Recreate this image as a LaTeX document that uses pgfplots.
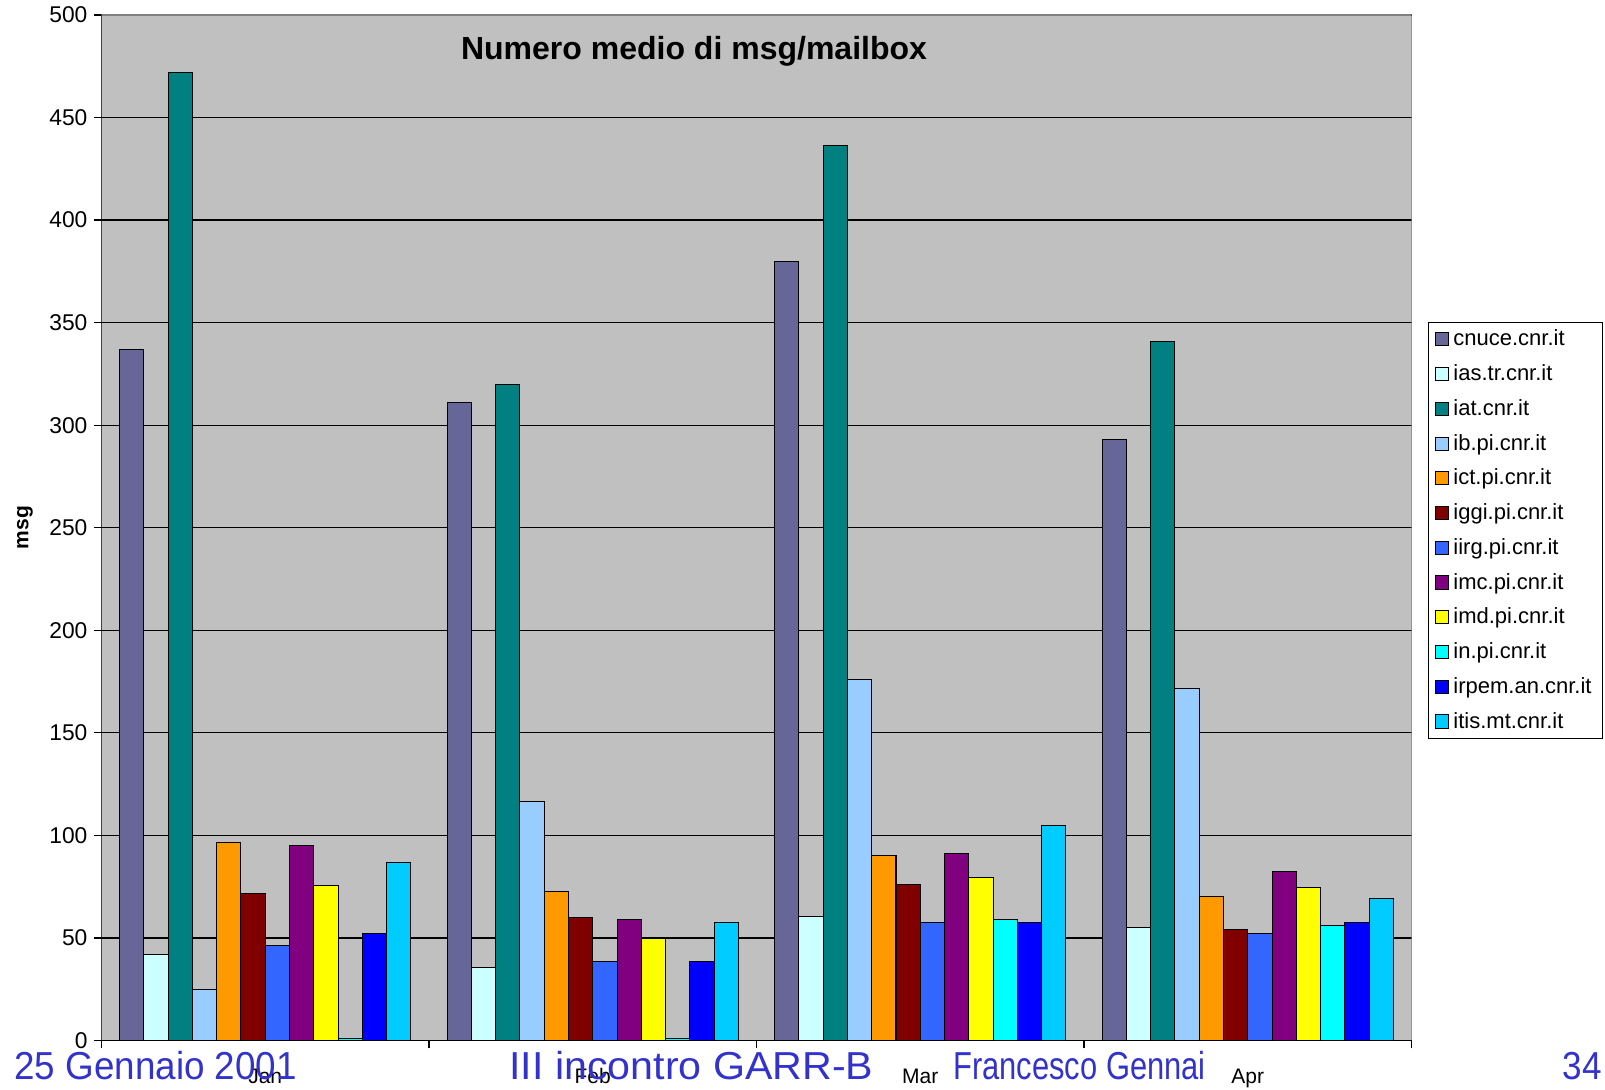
\documentclass[border=0pt]{standalone}
\usepackage{pgfplots}
\pgfplotsset{compat=1.18}
\usepackage{fontspec}
\setmainfont{Liberation Sans}
\definecolor{cA}{HTML}{666699}
\definecolor{cB}{HTML}{CCFFFF}
\definecolor{cC}{HTML}{008080}
\definecolor{cD}{HTML}{99CCFF}
\definecolor{cE}{HTML}{FF9900}
\definecolor{cF}{HTML}{800000}
\definecolor{cG}{HTML}{3366FF}
\definecolor{cH}{HTML}{800080}
\definecolor{cI}{HTML}{FFFF00}
\definecolor{cJ}{HTML}{00FFFF}
\definecolor{cK}{HTML}{0000FF}
\definecolor{cL}{HTML}{00CCFF}
\definecolor{bg}{HTML}{C0C0C0}
\definecolor{frame}{HTML}{808080}
\definecolor{foot}{HTML}{3333CC}
\begin{document}
\begin{tikzpicture}
\begin{axis}[
  at={(0,0)}, anchor=south west,
  scale only axis, width=655pt, height=512.75pt,
  ybar=0pt, bar width=12.13pt,
  xmin=-0.5, xmax=3.5, ymin=0, ymax=500,
  enlarge x limits=false,
  xtick={0,1,2,3}, xticklabels={Jan,Feb,Mar,Apr},
  major x tick style={draw=none},
  minor xtick={-0.5,0.5,1.5,2.5,3.5},
  minor tick length=4pt,
  ytick={0,50,...,500},
  major tick length=3.5pt,
  tick align=outside, tick pos=left,
  tick style={black, line width=0.6pt},
  ymajorgrids, grid style={black, line width=0.6pt},
  axis line style={draw=none},
  axis background/.style={fill=bg},
  /pgf/number format/assume math mode=true,
  yticklabel style={font=\fontsize{11.4}{13}\selectfont},
  xticklabel style={font=\fontsize{10.5}{12}\selectfont, anchor=base, yshift=-18pt},
  ylabel={\bfseries msg},
  ylabel style={font=\fontsize{10.5}{12}\selectfont, at={(axis description cs:-0.0584,0.5)}, anchor=center, rotate=0},
  legend style={at={(axis description cs:1.0126,0.7005)}, anchor=north west,
    draw=black, fill=white, line width=0.6pt,
    font=\fontsize{11}{13}\selectfont,
    row sep=3.9pt, inner xsep=3.3pt, inner ysep=1.6pt,
    /tikz/every even column/.append style={column sep=0pt}},
  legend cell align=left,
  legend image code/.code={\draw[#1,draw=black,line width=0.5pt] (0pt,-3.3pt) rectangle (6.6pt,3.3pt);},
  every axis plot/.append style={draw=black, line width=0.5pt},
]
\addplot[fill=cA] coordinates {(0,337) (1,311) (2,380) (3,293)};
\addplot[fill=cB] coordinates {(0,42) (1,35.5) (2,60.5) (3,55)};
\addplot[fill=cC] coordinates {(0,472) (1,320) (2,436.5) (3,341)};
\addplot[fill=cD] coordinates {(0,25) (1,116.5) (2,176) (3,171.5)};
\addplot[fill=cE] coordinates {(0,96.5) (1,72.5) (2,90) (3,70)};
\addplot[fill=cF] coordinates {(0,71.5) (1,60) (2,76) (3,54)};
\addplot[fill=cG] coordinates {(0,46.5) (1,38.5) (2,57.5) (3,52)};
\addplot[fill=cH] coordinates {(0,95) (1,59) (2,91) (3,82.5)};
\addplot[fill=cI] coordinates {(0,75.5) (1,49.5) (2,79.5) (3,74.5)};
\addplot[fill=cJ] coordinates {(0,1) (1,1) (2,59) (3,56)};
\addplot[fill=cK] coordinates {(0,52) (1,38.5) (2,57.5) (3,57.5)};
\addplot[fill=cL] coordinates {(0,87) (1,57.5) (2,105) (3,69)};
\legend{cnuce.cnr.it,ias.tr.cnr.it,iat.cnr.it,ib.pi.cnr.it,ict.pi.cnr.it,iggi.pi.cnr.it,iirg.pi.cnr.it,imc.pi.cnr.it,imd.pi.cnr.it,in.pi.cnr.it,irpem.an.cnr.it,itis.mt.cnr.it}
\draw[frame, line width=1pt] (rel axis cs:0,1) -- (rel axis cs:1,1) -- (rel axis cs:1,0);
\draw[black, line width=0.8pt] (rel axis cs:0,1) -- (rel axis cs:0,0) -- (rel axis cs:1,0);
\node[font=\fontsize{16}{19}\selectfont\bfseries, anchor=center] at (axis description cs:0.4523,0.9645) {Numero medio di msg/mailbox};
\end{axis}
\begin{scope}[every node/.style={inner sep=0pt, text=foot, font=\fontsize{19.5}{23}\selectfont}]
\node[anchor=base west] at (-43.75pt,-19.5pt) {\scalebox{0.944}[1]{25 Gennaio 2001}};
\node[anchor=base west] at (203.75pt,-19.5pt) {\scalebox{1.056}[1]{III incontro GARR-B}};
\node[anchor=base west] at (425.75pt,-19.5pt) {\scalebox{0.792}[1]{Francesco Gennai}};
\node[anchor=base east] at (750.25pt,-19.5pt) {\scalebox{0.9}[1]{34}};
\end{scope}
\pgfresetboundingbox
\useasboundingbox (-50.75pt,-24.75pt) rectangle (751.75pt,520.25pt);
\end{tikzpicture}
\end{document}
